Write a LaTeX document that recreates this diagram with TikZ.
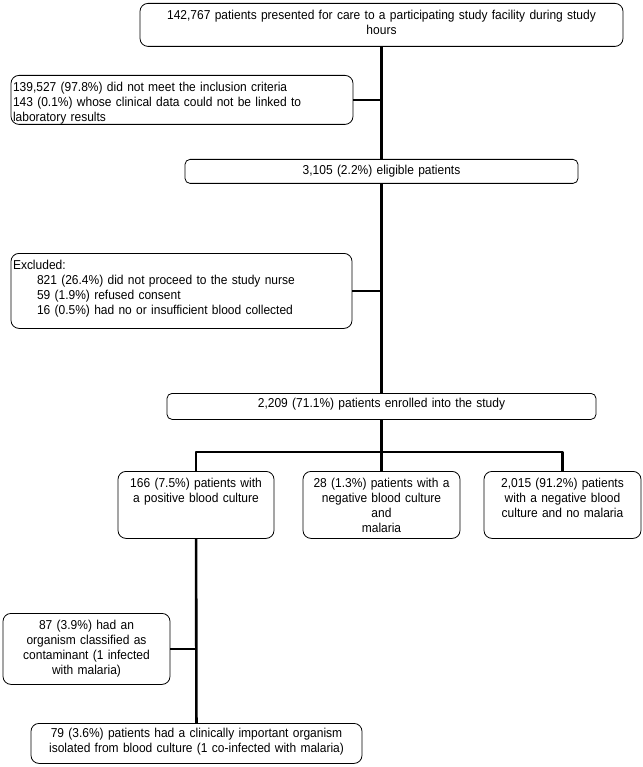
\documentclass[tikz,border=0pt]{standalone}
\usepackage{fontspec}
\setmainfont{Liberation Sans}[FakeStretch=0.93]
\tikzset{
    flowbox/.style={draw, rounded corners=8pt, line width=0.8pt, inner xsep=2pt, inner ysep=4pt,
        text height=12.5pt, font=\fontsize{12.9}{15}\selectfont},
    flatbox/.style={flowbox, rounded corners=5pt, text height=11pt},
    link/.style={line width=2.6pt},
}
\begin{document}
\begin{tikzpicture}[x=1pt,y=-1pt]
    \useasboundingbox (0,0) rectangle (642,767);
    % main column
    \node[flowbox, anchor=north, text width=479pt, align=center, text depth=22.5pt] (presented) at (381.5,3)
        {142,767 patients presented for care to a participating study facility during study\\hours};
    \node[flatbox, anchor=north, text width=389pt, align=center, text depth=5pt] (eligible) at (381.5,159)
        {3,105 (2.2\%) eligible patients};
    \node[flatbox, anchor=north, text width=425pt, align=center, text height=10.5pt, text depth=7.5pt] (enrolled) at (381.5,393)
        {2,209 (71.1\%) patients enrolled into the study};
    % exclusions
    \node[flowbox, anchor=north, text width=338pt, align=left, text depth=28.5pt] (notincl) at (182,75)
        {139,527 (97.8\%) did not meet the inclusion criteria\\
         143 (0.1\%) whose clinical data could not be linked to\\
         laboratory results};
    \node[flowbox, anchor=north, text width=337pt, align=left, text depth=54.5pt] (excluded) at (181.5,253)
        {Excluded:\\
         \hspace*{24pt}821 (26.4\%) did not proceed to the study nurse\\
         \hspace*{24pt}59 (1.9\%) refused consent\\
         \hspace*{24pt}16 (0.5\%) had no or insufficient blood collected};
    % culture groups
    \node[flowbox, anchor=north, text width=152pt, align=center, text depth=46.5pt] (positive) at (196,471)
        {166 (7.5\%) patients with\\a positive blood culture};
    \node[flowbox, anchor=north, text width=153pt, align=center, text depth=46.5pt] (malaria) at (381.5,471)
        {28 (1.3\%) patients with a\\negative blood culture\\and\\malaria};
    \node[flowbox, anchor=north, text width=153pt, align=center, text depth=46.5pt] (nomalaria) at (562.5,471)
        {2,015 (91.2\%) patients\\with a negative blood\\culture and no malaria};
    % positive branch
    \node[flowbox, anchor=north, text width=163pt, align=center, text depth=50.5pt] (contam) at (86.5,613)
        {87 (3.9\%) had an\\organism classified as\\contaminant (1 infected\\with malaria)};
    \node[flowbox, anchor=north, text width=327pt, align=center, text height=10.5pt, text depth=21.5pt] (important) at (196.5,723)
        {79 (3.6\%) patients had a clinically important organism\\isolated from blood culture (1 co-infected with malaria)};
    \coordinate (split) at (381.5,452);
    % connectors
    \draw[link] (presented) -- (eligible);
    \draw[link] (notincl.east) -- (notincl.east -| presented.south);
    \draw[link] (eligible) -- (enrolled);
    \draw[link] (excluded.east) -- (excluded.east -| eligible.south);
    \draw[link] (enrolled) -- (split);
    \draw[link, line join=round] (positive.north) |- (split) -| (nomalaria.north);
    \draw[link] (split) -- (malaria.north);
    \draw[link] (positive) -- (important);
    \draw[link] (contam.east) -- (contam.east -| positive.south);
\end{tikzpicture}
\end{document}
